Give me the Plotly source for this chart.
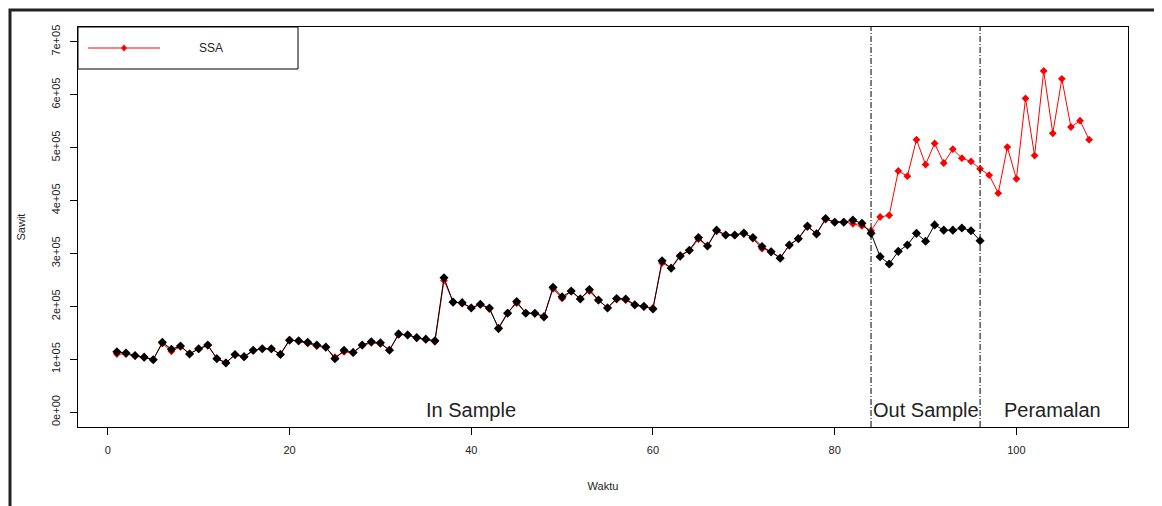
import plotly.graph_objects as go

# ---- data ----
actual_x = list(range(1, 97))
actual = [114000, 112000, 107000, 104000, 99000, 132000, 119000, 125000, 110000, 120000,
          127000, 101000, 93000, 109000, 105000, 117000, 120000, 120000, 109000, 136000,
          135000, 132000, 127000, 123000, 101000, 117000, 113000, 127000, 133000, 131000,
          117000, 148000, 146000, 141000, 138000, 135000, 254000, 208000, 207000, 197000,
          204000, 197000, 158000, 187000, 209000, 187000, 187000, 180000, 236000, 218000,
          229000, 214000, 232000, 212000, 197000, 215000, 214000, 203000, 200000, 195000,
          286000, 272000, 295000, 306000, 330000, 314000, 344000, 335000, 335000, 338000,
          330000, 313000, 303000, 291000, 316000, 328000, 352000, 337000, 366000, 359000,
          359000, 363000, 357000, 338000, 294000, 280000, 304000, 316000, 338000, 323000,
          354000, 344000, 344000, 348000, 343000, 324000]

ssa_x = list(range(1, 109))
ssa = [110000, 110000, 106000, 103000, 100000, 130000, 115000, 124000, 111000, 119000,
       126000, 102000, 94000, 108000, 104000, 116000, 120000, 119000, 110000, 137000,
       134000, 130000, 125000, 122000, 104000, 114000, 112000, 126000, 131000, 129000,
       118000, 146000, 147000, 140000, 137000, 133000, 249000, 209000, 205000, 198000,
       203000, 195000, 160000, 188000, 206000, 188000, 186000, 182000, 233000, 215000,
       228000, 215000, 229000, 211000, 198000, 213000, 212000, 202000, 199000, 197000,
       282000, 273000, 297000, 305000, 327000, 314000, 342000, 335000, 334000, 340000,
       328000, 309000, 304000, 292000, 315000, 328000, 350000, 338000, 364000, 360000,
       360000, 356000, 352000, 343000, 369000, 372000, 456000, 446000, 515000, 468000,
       508000, 471000, 497000, 480000, 474000, 460000, 448000, 414000, 501000, 441000,
       593000, 485000, 645000, 527000, 630000, 539000, 551000, 515000]

split_points = [84, 96]
region_labels = ["In Sample", "Out Sample", "Peramalan"]
region_label_x = [40, 90, 104]
region_label_y = [5000, 5000, 5000]

x_ticks = [0, 20, 40, 60, 80, 100]
y_ticks = [0, 100000, 200000, 300000, 400000, 500000, 600000, 700000]
y_tick_text = ["0e+00", "1e+05", "2e+05", "3e+05", "4e+05", "5e+05", "6e+05", "7e+05"]

FONT = "Liberation Sans, Arial, sans-serif"

fig = go.Figure()
fig.add_trace(go.Scatter(x=ssa_x, y=ssa, mode="lines+markers", name="SSA",
                         line=dict(color="#ff0000", width=1),
                         marker=dict(symbol="diamond", size=6, color="#ff0000"),
                         showlegend=False))
fig.add_trace(go.Scatter(x=actual_x, y=actual, mode="lines+markers", name="Aktual",
                         line=dict(color="#000000", width=1),
                         marker=dict(symbol="diamond", size=7, color="#000000"),
                         showlegend=False))

for xv in split_points:
    fig.add_shape(type="line", xref="x", yref="paper", x0=xv, x1=xv, y0=0, y1=1,
                  line=dict(color="black", width=1, dash="6px,2px,1px,2px"))

for lab, lx, ly in zip(region_labels, region_label_x, region_label_y):
    fig.add_annotation(x=lx, y=ly, text=lab, showarrow=False, xref="x", yref="y",
                       xanchor="center", yanchor="middle",
                       font=dict(family=FONT, size=20, color="#222222"))

# page-pixel -> paper helpers (plot area 78..1128 x, 27..427 y on the page)
def px(p):
    return (p - 78) / 1050.0

def py(p):
    return (427 - p) / 400.0

# legend box (manual, R-style)
fig.add_shape(type="rect", xref="paper", yref="paper", x0=px(78), x1=px(298), y0=py(69), y1=py(27),
              line=dict(color="black", width=1), fillcolor="white", layer="above")
fig.add_shape(type="line", xref="paper", yref="paper", x0=px(88), x1=px(160), y0=py(48), y1=py(48),
              line=dict(color="#ff0000", width=1), layer="above")
cx, cy, dx, dy = px(124), py(48), 3.0 / 1050.0, 3.5 / 400.0
fig.add_shape(type="path", xref="paper", yref="paper",
              path=f"M {cx-dx},{cy} L {cx},{cy+dy} L {cx+dx},{cy} L {cx},{cy-dy} Z",
              fillcolor="#ff0000", line=dict(color="#ff0000", width=0), layer="above")
fig.add_annotation(xref="paper", yref="paper", x=px(211), y=py(48), text="SSA", showarrow=False,
                   xanchor="center", yanchor="middle",
                   font=dict(family=FONT, size=12, color="#222222"))

# outer frame
fig.add_shape(type="rect", xref="paper", yref="paper", x0=px(10), x1=px(1166), y0=py(530), y1=py(10),
              line=dict(color="#222222", width=3), fillcolor="rgba(0,0,0,0)", layer="above")

# the page body adds an 8px offset; figure size/margins compensate for it
fig.update_layout(
    width=1154, height=498,
    margin=dict(l=70, r=34, t=19, b=79),
    paper_bgcolor="white", plot_bgcolor="white",
    font=dict(family=FONT, size=11, color="#222222"),
    xaxis=dict(range=[-3.28, 112.28], tickvals=x_ticks, ticks="outside", ticklen=7,
               tickcolor="black", showline=True, linecolor="black", linewidth=1, mirror=True,
               showgrid=False, zeroline=False, ticklabelstandoff=6, automargin=False,
               title=dict(text="Waktu", font=dict(size=11), standoff=27)),
    yaxis=dict(range=[-28000, 728000], tickvals=y_ticks, ticktext=y_tick_text, tickangle=-90,
               ticks="outside", ticklen=7, tickcolor="black", showline=True, linecolor="black",
               linewidth=1, mirror=True, showgrid=False, zeroline=False, ticklabelstandoff=6,
               automargin=False,
               title=dict(text="Sawit", font=dict(size=11), standoff=21)),
)

fig.write_html("out.html")
